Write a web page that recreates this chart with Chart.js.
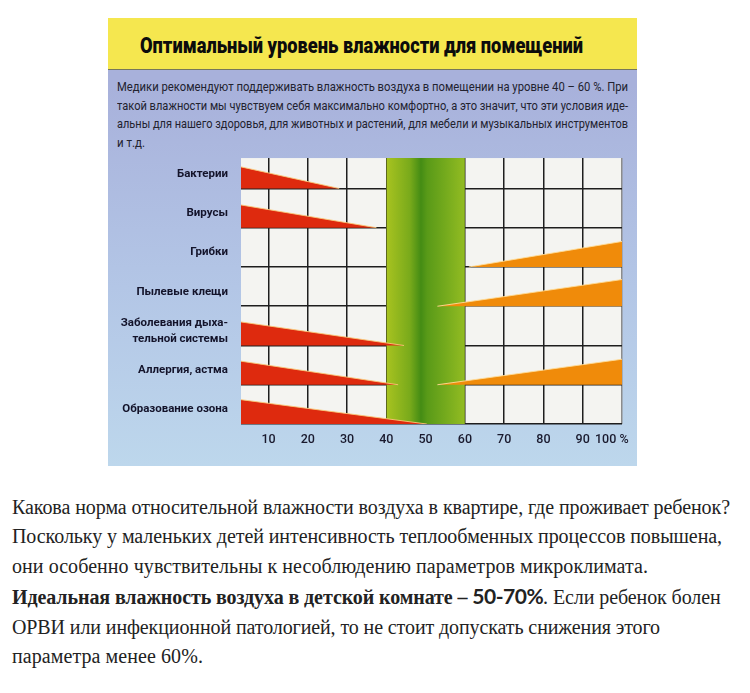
<!DOCTYPE html>
<html lang="ru">
<head>
<meta charset="utf-8">
<script src="https://cdn.jsdelivr.net/npm/chart.js@4.4.1/dist/chart.umd.min.js"></script>
<style>
  html, body { margin: 0; padding: 0; background: #fff; }
  body { width: 750px; height: 693px; position: relative; overflow: hidden; }
  .poster { position: absolute; left: 108px; top: 18px; width: 529px; height: 448px;
            background: linear-gradient(#a8b1db 15%, #b3c6e6 60%, #bdd7ec); }
  .poster .head { position: absolute; left: 0; top: 0; width: 100%; height: 51px;
            background: #f5e74f; border-bottom: 1px solid #77775a; }
  .poster .head span { position: absolute; left: 32px; top: 15px; white-space: nowrap;
            font: 900 22px Roboto, "Liberation Sans", sans-serif; color: #0c0c0c; transform-origin: 0 0; }
  .intro { position: absolute; left: 9px; top: 60px;
           font: 13px/18.5px Roboto, "Liberation Sans", sans-serif; color: #22222f; }
  .intro span, .text span { display: inline-block; white-space: nowrap; transform-origin: 0 50%; }
  #wrap { position: absolute; left: 108px; top: 145px; width: 529px; height: 321px; }
  .text { position: absolute; left: 12px; top: 493px;
          font: 20px/29.4px "Liberation Serif", "DejaVu Serif", serif; color: #222; }
  .text .num { font-family: Lato, "Open Sans", sans-serif; font-weight: bold; font-size: 21px; letter-spacing: -0.5px; }
</style>
</head>
<body>
<div class="poster">
  <div class="head"><span data-sx="443">Оптимальный уровень влажности для помещений</span></div>
  <div class="intro">
    <span data-sx="511">Медики рекомендуют поддерживать влажность воздуха в помещении на уровне 40 – 60 %. При</span><br>
    <span data-sx="511">такой влажности мы чувствуем себя максимально комфортно, а это значит, что эти условия иде-</span><br>
    <span data-sx="511">альны для нашего здоровья, для животных и растений, для мебели и музыкальных инструментов</span><br>
    <span data-sx="28">и т.д.</span>
  </div>
</div>
<div id="wrap"><canvas id="humidity"></canvas></div>
<div class="text">
  <span data-w="718">Какова норма относительной влажности воздуха в квартире, где проживает ребенок?</span><br>
  <span data-w="710">Поскольку у маленьких детей интенсивность теплообменных процессов повышена,</span><br>
  <span data-w="636">они особенно чувствительны к несоблюдению параметров микроклимата.</span><br>
  <span data-w="708"><b>Идеальная влажность воздуха в детской комнате – </b><b class="num">50-70%</b>. Если ребенок болен</span><br>
  <span data-w="648">ОРВИ или инфекционной патологией, то не стоит допускать снижения этого</span><br>
  <span data-w="191">параметра менее 60%.</span>
</div>
<script>
/* ── Chart data (rows listed top to bottom) ── */
var rowNames = ['Бактерии', 'Вирусы', 'Грибки', 'Пылевые клещи',
                ['Заболевания дыха-', 'тельной системы'], 'Аллергия, астма', 'Образование озона'];
// red wedges: risk falls as humidity rises (ends where it reaches zero)
var redEnd      = [28, 37.5, null, null, 44.5, 43, 50.3];
var redHeight   = [0.55, 0.58, null, null, 0.6, 0.6, 0.62];
// orange wedges: risk grows from a start value up to 100 %
var orangeStart  = [null, null, 61, 53, null, 53, null];
var orangeHeight = [null, null, 0.65, 0.68, null, 0.65, null];
var comfortZone = [40, 60];
var xGridValues = [10, 20, 30, 40, 50, 60, 70, 80, 90, 100];
var xTickLabels = ['10', '20', '30', '40', '50', '60', '70', '80', '90', '100 %'];
var xLabelAt    = [10, 20, 30, 40, 50, 60, 70, 80, 90, 97.4];
var xMin = 3, xMax = 100, yMax = 6.775;

var sans = 'Roboto, "Liberation Sans", sans-serif';

/* ── Build datasets ── */
var datasets = [];
rowNames.forEach(function (name, i) {
    var base = rowNames.length - 1 - i;
    if (redEnd[i] !== null) {
        datasets.push({
            data: [{ x: xMin, y: base + redHeight[i] }, { x: redEnd[i], y: base }],
            fill: { value: base },
            backgroundColor: '#de2a0e',
            borderColor: 'rgba(250, 200, 120, 0.9)',
            borderWidth: 1
        });
    }
    if (orangeStart[i] !== null) {
        datasets.push({
            data: [{ x: orangeStart[i], y: base }, { x: xMax, y: base + orangeHeight[i] }],
            fill: { value: base },
            backgroundColor: '#f08b0a',
            borderColor: 'rgba(255, 220, 150, 0.9)',
            borderWidth: 1
        });
    }
});
// comfort band goes last so it is painted underneath the wedges
datasets.push({
    data: [{ x: comfortZone[0], y: yMax }, { x: comfortZone[1], y: yMax }],
    fill: { value: 0 },
    borderWidth: 0,
    backgroundColor: function (ctx) {
        var chart = ctx.chart;
        if (!chart.chartArea) return '#7aae1c';
        var x0 = chart.scales.x.getPixelForValue(comfortZone[0]);
        var x1 = chart.scales.x.getPixelForValue(comfortZone[1]);
        var g = chart.ctx.createLinearGradient(x0, 0, x1, 0);
        g.addColorStop(0, '#a8c320');
        g.addColorStop(0.3, '#79aa1b');
        g.addColorStop(0.44, '#448c14');
        g.addColorStop(0.52, '#599a18');
        g.addColorStop(0.75, '#74aa1d');
        g.addColorStop(1, '#93bc22');
        return g;
    }
});

var plotBackground = {
    id: 'plotBackground',
    beforeDraw: function (chart) {
        var a = chart.chartArea, c = chart.ctx;
        c.save();
        c.fillStyle = '#f4f4f1';
        c.fillRect(a.left, a.top, a.right - a.left, a.bottom - a.top);
        c.restore();
    }
};

new Chart(document.getElementById('humidity'), {
    type: 'line',
    data: { datasets: datasets },
    plugins: [plotBackground],
    options: {
        responsive: true,
        maintainAspectRatio: false,
        animation: false,
        layout: { padding: { top: 8, right: 15, left: -7, bottom: 0 } },
        elements: { point: { radius: 0, hoverRadius: 0 }, line: { tension: 0 } },
        plugins: { legend: { display: false }, tooltip: { enabled: false } },
        scales: {
            x: {
                type: 'linear', min: xMin, max: xMax, z: 1,
                afterBuildTicks: function (s) { s.ticks = xGridValues.map(function (v) { return { value: v }; }); },
                afterFit: function (s) { s.height = 0; },
                ticks: { display: false },
                border: { display: false },
                grid: {
                    drawTicks: false,
                    lineWidth: 1.5,
                    color: function (c) { return c.tick && c.tick.value === xMax ? '#8c8c8c' : '#1e1e1e'; }
                }
            },
            xl: {
                type: 'linear', position: 'bottom', min: xMin, max: xMax,
                afterBuildTicks: function (s) { s.ticks = xLabelAt.map(function (v) { return { value: v }; }); },
                afterFit: function (s) { s.height = 42; },
                grid: { display: false },
                border: { display: false },
                ticks: {
                    padding: 0,
                    autoSkip: false,
                    maxRotation: 0,
                    color: '#1a1a2e',
                    font: { family: sans, size: 12.5, weight: '500' },
                    callback: function (v, i) { return xTickLabels[i]; }
                }
            },
            y: {
                type: 'linear', min: 0, max: yMax, z: 1,
                afterBuildTicks: function (s) { s.ticks = [0, 1, 2, 3, 4, 5, 6].map(function (v) { return { value: v }; }); },
                afterFit: function (s) { s.width = 0; },
                ticks: { display: false },
                border: { display: false },
                grid: { drawTicks: false, lineWidth: 1.5, color: '#1e1e1e' }
            },
            yl: {
                type: 'linear', position: 'left', min: 0, max: yMax,
                afterBuildTicks: function (s) {
                    s.ticks = rowNames.map(function (n, i) { return { value: rowNames.length - 1 - i + 0.37 }; });
                },
                afterFit: function (s) { s.width = 140; },
                grid: { display: false },
                border: { display: false },
                ticks: {
                    padding: 5,
                    autoSkip: false,
                    color: '#13132a',
                    font: { family: sans, size: 11.5, weight: 'bold', lineHeight: 1.4 },
                    callback: function (v, i) { return rowNames[i]; }
                }
            }
        }
    }
});

/* ── fit text lines to the widths in the picture ── */
document.querySelectorAll('span[data-sx]').forEach(function (el) {
    var target = parseFloat(el.getAttribute('data-sx'));
    el.style.transform = 'scaleX(' + (target / el.getBoundingClientRect().width) + ')';
});
document.querySelectorAll('span[data-w]').forEach(function (el) {
    var target = parseFloat(el.getAttribute('data-w'));
    var diff = target - el.getBoundingClientRect().width;
    el.style.letterSpacing = (diff / el.textContent.length) + 'px';
});
</script>
</body>
</html>
